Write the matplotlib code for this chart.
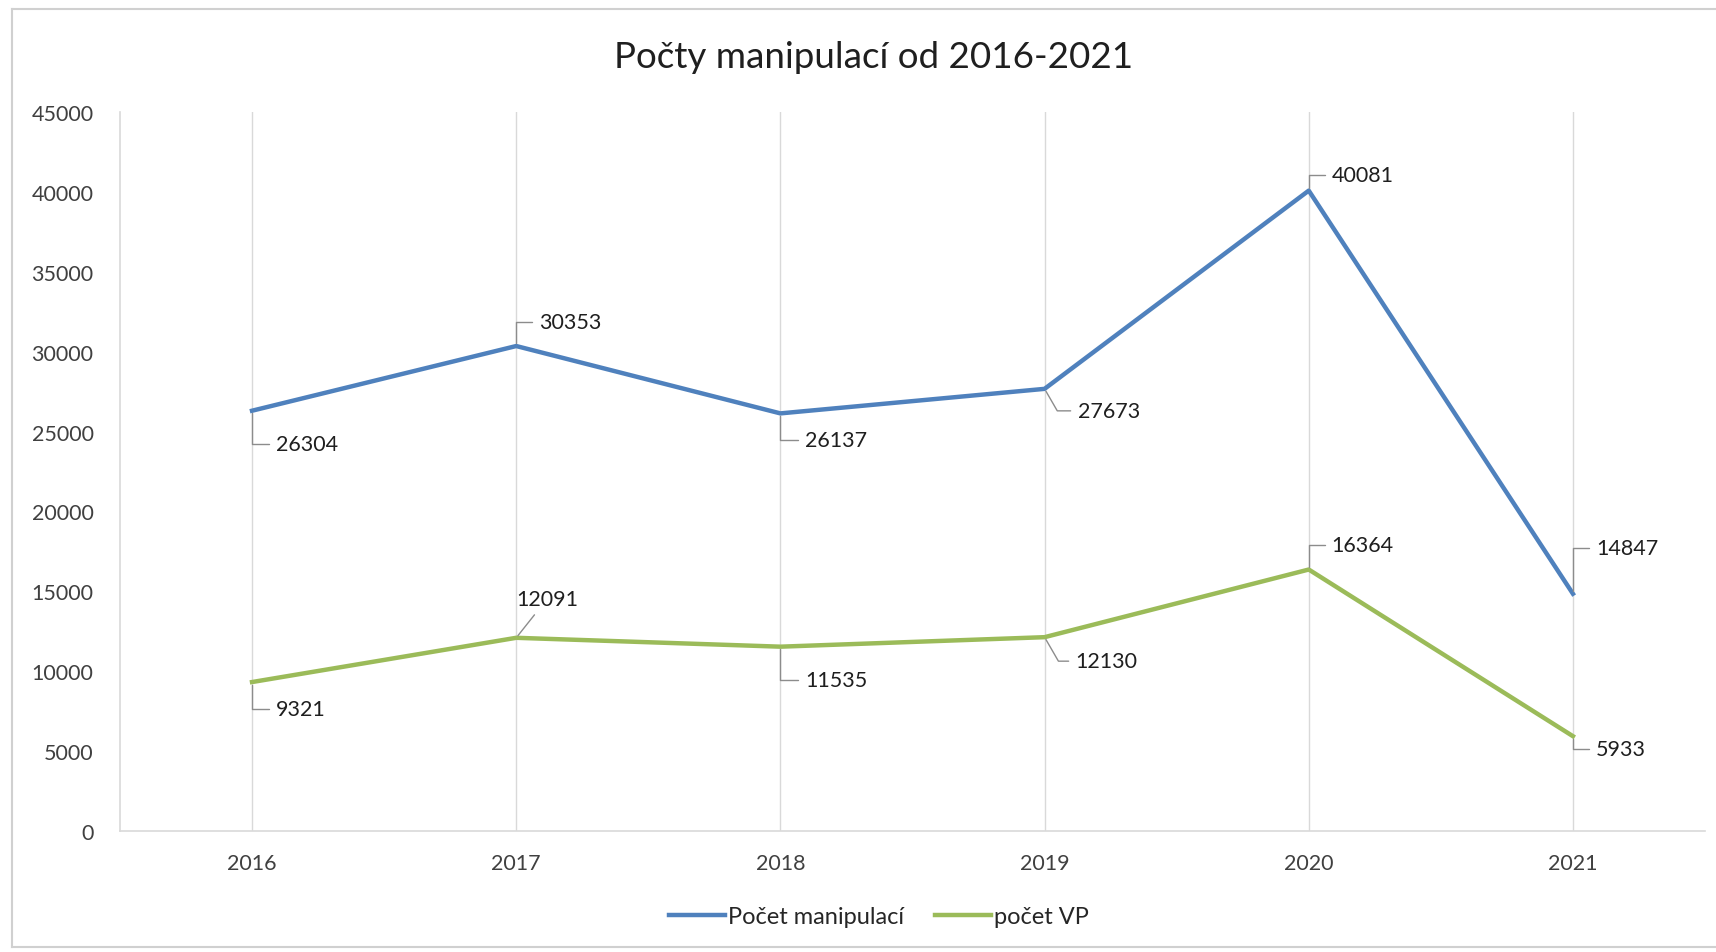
#!/usr/bin/env python3
"""Line chart: Počty manipulací od 2016-2021."""

import matplotlib

matplotlib.use("Agg")
import matplotlib.pyplot as plt
from matplotlib.lines import Line2D

# Data
years = ["2016", "2017", "2018", "2019", "2020", "2021"]
manipulace = [26304, 30353, 26137, 27673, 40081, 14847]
pocet_vp = [9321, 12091, 11535, 12130, 16364, 5933]
y_ticks = [0, 5000, 10000, 15000, 20000, 25000, 30000, 35000, 40000, 45000]

title = "Počty manipulací od 2016-2021"
series_names = ["Počet manipulací", "počet VP"]

# Style: label offsets in pixels (dx, dy) and leader angle at the point
blue_offsets = [(24, -33), (23, 24), (25, -27), (33, -22), (23, 16), (23, 46)]
green_offsets = [(24, -27), (31, 39), (25, -33), (31, -24), (23, 25), (23, -13)]
blue_angles = [90, 90, 90, 120, 90, 90]
green_angles = [90, None, 90, 120, 90, 90]

BLUE = "#4F81BD"
GREEN = "#9BBB59"
GRID = "#d9d9d9"
TEXT = "#404040"
LEADER = "#8c8c8c"

plt.rcParams["font.family"] = ["Lato", "DejaVu Sans"]

fig = plt.figure(figsize=(17.16, 9.53), dpi=100)
ax = fig.add_axes([0.0699, 0.1270, 0.9237, 0.7544])

x = list(range(len(years)))
ax.plot(x, manipulace, color=BLUE, lw=3.2, solid_joinstyle="round", zorder=3)
ax.plot(x, pocet_vp, color=GREEN, lw=3.2, solid_joinstyle="round", zorder=3)

ax.set_xlim(-0.5, len(years) - 0.5)
ax.set_ylim(0, 45000)
ax.set_yticks(y_ticks)
ax.set_yticklabels([str(v) for v in y_ticks])
ax.set_xticks(x)
ax.set_xticklabels(years)
ax.tick_params(axis="both", length=0, labelsize=15.5, colors=TEXT)
ax.tick_params(axis="y", pad=19)
ax.tick_params(axis="x", pad=16)

ax.grid(axis="x", color=GRID, lw=1)
ax.set_axisbelow(True)
for side in ["top", "right"]:
    ax.spines[side].set_visible(False)
for side in ["left", "bottom"]:
    ax.spines[side].set_color(GRID)
    ax.spines[side].set_linewidth(1.2)


def add_labels(values, offsets, angles):
    for xi, v, (dx, dy), ang in zip(x, values, offsets, angles):
        if ang is None:
            conn = "arc3"
            ha = "center"
            va = "bottom"
            dy_use = dy - 10
        else:
            conn = f"angle,angleA=0,angleB={ang},rad=0"
            ha = "left"
            va = "center"
            dy_use = dy
        ax.annotate(
            str(v),
            xy=(xi, v),
            xytext=(dx, dy_use),
            textcoords="offset pixels",
            ha=ha,
            va=va,
            fontsize=15.5,
            color="#1f1f1f",
            arrowprops=dict(
                arrowstyle="-",
                color=LEADER,
                lw=1,
                connectionstyle=conn,
                shrinkA=3,
                shrinkB=2,
            ),
            zorder=4,
        )


add_labels(manipulace, blue_offsets, blue_angles)
add_labels(pocet_vp, green_offsets, green_angles)

fig.text(0.509, 0.940, title, ha="center", va="center", fontsize=26.5, color="#1f1f1f")

handles = [
    Line2D([], [], color=BLUE, lw=3.2),
    Line2D([], [], color=GREEN, lw=3.2),
]
fig.legend(
    handles,
    series_names,
    loc="center",
    bbox_to_anchor=(0.512, 0.037),
    ncol=2,
    frameon=False,
    fontsize=17,
    handlelength=2.4,
    handletextpad=0.1,
    columnspacing=1.3,
    labelcolor="#262626",
)

# Chart area border
border = dict(color="#d0d0d0", lw=1.5, transform=fig.transFigure)
fig.add_artist(Line2D([12 / 1716, 1.0], [1 - 10 / 953, 1 - 10 / 953], **border))
fig.add_artist(Line2D([12 / 1716, 12 / 1716], [1 - 10 / 953, 1 - 948 / 953], **border))
fig.add_artist(Line2D([12 / 1716, 1.0], [1 - 948 / 953, 1 - 948 / 953], **border))

fig.savefig("out.png", dpi=100, facecolor="white")
